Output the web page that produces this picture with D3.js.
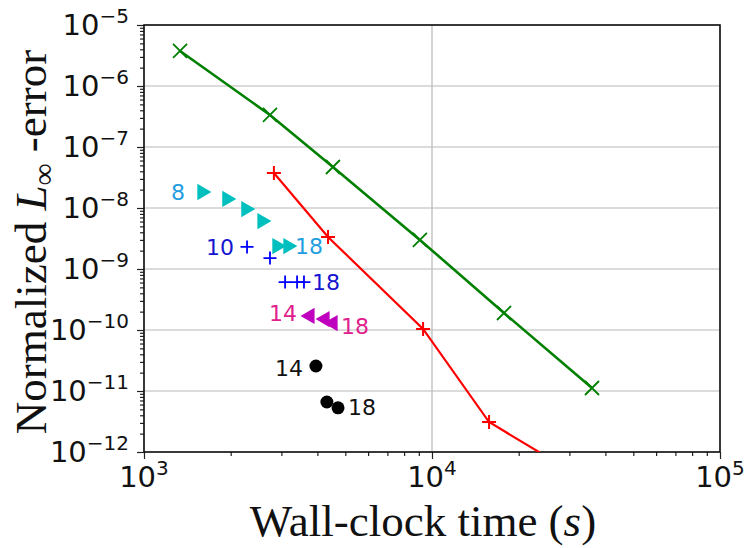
<!DOCTYPE html>
<html><head><meta charset="utf-8">
<script src="https://cdn.jsdelivr.net/npm/d3@7"></script>
<style>body{margin:0;background:#fff}</style>
</head><body><svg id="c" width="744" height="548"></svg>
<script>
// ---- data ----
const greenX = [1334, 2738, 4529, 9078, 17783, 35938];
const greenY = [3.75e-6, 3.35e-7, 4.7e-8, 3.0e-9, 1.9e-10, 1.12e-11];
const redX = [2825, 4355, 9311, 15780, 30000];
const redY = [3.75e-8, 3.35e-9, 1.04e-10, 3.1e-12, 5e-13];
const cyanX = [1590, 1941, 2259, 2570, 2897, 3162];
const cyanY = [1.83e-8, 1.41e-8, 9.6e-9, 6.1e-9, 2.38e-9, 2.38e-9];
const blueX = [2279, 2738, 3090, 3400, 3593];
const blueY = [2.3e-9, 1.51e-9, 6.1e-10, 6.1e-10, 6.1e-10];
const magX = [3767, 4249, 4529];
const magY = [1.7e-10, 1.51e-10, 1.3e-10];
const blackX = [3953, 4315, 4718];
const blackY = [2.57e-11, 6.6e-12, 5.3e-12];
const labelText = ["8", "18", "10", "18", "14", "18", "14", "18"];
const labelSeries = ["cyan", "cyan", "blue", "blue", "magenta", "magenta", "black", "black"];
const labelX = [1313, 3741, 1836, 4285, 3040, 5408, 3185, 5715];
const labelY = [1.83e-8, 2.38e-9, 2.3e-9, 6.1e-10, 1.9e-10, 1.16e-10, 2.38e-11, 5.47e-12];
const xTickVals = [1e3, 1e4, 1e5];
const xTickExp = ["3", "4", "5"];
const yTickVals = [1e-5, 1e-6, 1e-7, 1e-8, 1e-9, 1e-10, 1e-11, 1e-12];
const yTickExp = ["−5", "−6", "−7", "−8", "−9", "−10", "−11", "−12"];

// ---- layout ----
const L = 144, R = 720, T = 25, B = 452;
const svg = d3.select("#c");
const x = d3.scaleLog().domain([1e3, 1e5]).range([L, R]);
const y = d3.scaleLog().domain([1e-12, 1e-5]).range([B, T]);
const labelColor = {cyan: "#229ee0", blue: "#1515d0", magenta: "#e0208c", black: "#111"};

svg.append("defs").append("clipPath").attr("id", "clip")
  .append("rect").attr("x", L).attr("y", T).attr("width", R - L).attr("height", B - T);

// grid
const grid = svg.append("g").attr("stroke", "#b8b8b8").attr("stroke-width", 1.2);
yTickVals.forEach(v => grid.append("line").attr("x1", L).attr("x2", R).attr("y1", y(v)).attr("y2", y(v)));
xTickVals.forEach(v => grid.append("line").attr("y1", T).attr("y2", B).attr("x1", x(v)).attr("x2", x(v)));

// axes
const minorX = [];
[1e3, 1e4].forEach(d => { for (let k = 2; k <= 9; k++) minorX.push(d * k); });
const minorY = [];
for (let e = -12; e < -5; e++) for (let k = 2; k <= 9; k++) minorY.push(k * Math.pow(10, e));

const xAxis = svg.append("g").attr("transform", `translate(0,${B})`);
xAxis.call(d3.axisBottom(x).tickValues(xTickVals).tickSize(7).tickFormat(""));
xAxis.append("g").call(d3.axisBottom(x).tickValues(minorX).tickSize(4).tickFormat(""));
const yAxis = svg.append("g").attr("transform", `translate(${L},0)`);
yAxis.call(d3.axisLeft(y).tickValues(yTickVals).tickSize(7).tickFormat(""));
yAxis.append("g").call(d3.axisLeft(y).tickValues(minorY).tickSize(4).tickFormat(""));
svg.selectAll(".domain").remove();
svg.selectAll(".tick line").attr("stroke", "#222").attr("stroke-width", 1.2);

// frame
svg.append("rect").attr("x", L).attr("y", T).attr("width", R - L).attr("height", B - T)
  .attr("fill", "none").attr("stroke", "#111").attr("stroke-width", 1.6);

// tick labels
const tickFont = "DejaVu Sans";
xTickVals.forEach((v, i) => {
  const t = svg.append("text").attr("x", x(v)).attr("y", B + 35).attr("text-anchor", "middle")
    .attr("font-family", tickFont).attr("font-size", 29).attr("fill", "#111");
  t.append("tspan").text("10");
  t.append("tspan").attr("dy", -12).attr("font-size", 20).text(xTickExp[i]);
});
yTickVals.forEach((v, i) => {
  const t = svg.append("text").attr("x", L - 15).attr("y", y(v) + 10).attr("text-anchor", "end")
    .attr("font-family", tickFont).attr("font-size", 29).attr("fill", "#111");
  t.append("tspan").text("10");
  t.append("tspan").attr("dy", -12).attr("font-size", 20).text(yTickExp[i]);
});

// axis titles
const serif = "Liberation Serif";
const xl = svg.append("text").attr("x", 423).attr("y", 536).attr("text-anchor", "middle")
  .attr("font-family", serif).attr("font-size", 45).attr("fill", "#111");
xl.append("tspan").text("Wall-clock time (");
xl.append("tspan").attr("font-style", "italic").text("s");
xl.append("tspan").text(")");

const yl = svg.append("text").attr("transform", `translate(46,242) rotate(-90)`)
  .attr("text-anchor", "middle").attr("font-family", serif).attr("font-size", 45).attr("fill", "#111");
yl.append("tspan").text("Normalized ");
yl.append("tspan").attr("font-style", "italic").text("L");
yl.append("tspan").attr("font-size", 31).attr("dy", 8).text("∞");
yl.append("tspan").attr("dy", -8).text(" -error");

// lines
const plot = svg.append("g").attr("clip-path", "url(#clip)");
const line = d3.line().x(d => x(d[0])).y(d => y(d[1]));
const gData = greenX.map((v, i) => [v, greenY[i]]);
const rData = redX.map((v, i) => [v, redY[i]]);
plot.append("path").attr("d", line(gData)).attr("fill", "none").attr("stroke", "#008000").attr("stroke-width", 2.6);
plot.append("path").attr("d", line(rData)).attr("fill", "none").attr("stroke", "#ff0000").attr("stroke-width", 2.2);
plot.selectAll(".gm").data(gData).join("path")
  .attr("transform", d => `translate(${x(d[0])},${y(d[1])})`)
  .attr("d", "M-7,-7L7,7M-7,7L7,-7").attr("stroke", "#008000").attr("stroke-width", 1.8).attr("fill", "none");
plot.selectAll(".rm").data(rData).join("path")
  .attr("transform", d => `translate(${x(d[0])},${y(d[1])})`)
  .attr("d", "M-7,0H7M0,-7V7").attr("stroke", "#ff0000").attr("stroke-width", 2).attr("fill", "none");

// scatter series
const tri = d3.symbol().type(d3.symbolTriangle).size(115)();
cyanX.forEach((v, i) => plot.append("path").attr("d", tri)
  .attr("transform", `translate(${x(v)},${y(cyanY[i])}) rotate(90)`).attr("fill", "#00bfbf"));
blueX.forEach((v, i) => plot.append("path").attr("d", "M-6.5,0H6.5M0,-6.5V6.5")
  .attr("transform", `translate(${x(v)},${y(blueY[i])})`).attr("stroke", "#0000ff").attr("stroke-width", 1.8));
magX.forEach((v, i) => plot.append("path").attr("d", tri)
  .attr("transform", `translate(${x(v)},${y(magY[i])}) rotate(-90)`).attr("fill", "#bf00bf"));
blackX.forEach((v, i) => plot.append("circle").attr("cx", x(v)).attr("cy", y(blackY[i])).attr("r", 6.5).attr("fill", "#000"));

// point labels
labelText.forEach((s, i) => svg.append("text").attr("x", x(labelX[i])).attr("y", y(labelY[i]) + 8)
  .attr("text-anchor", "middle").attr("font-family", "DejaVu Sans").attr("font-size", 22)
  .attr("fill", labelColor[labelSeries[i]]).text(s));
</script></body></html>
